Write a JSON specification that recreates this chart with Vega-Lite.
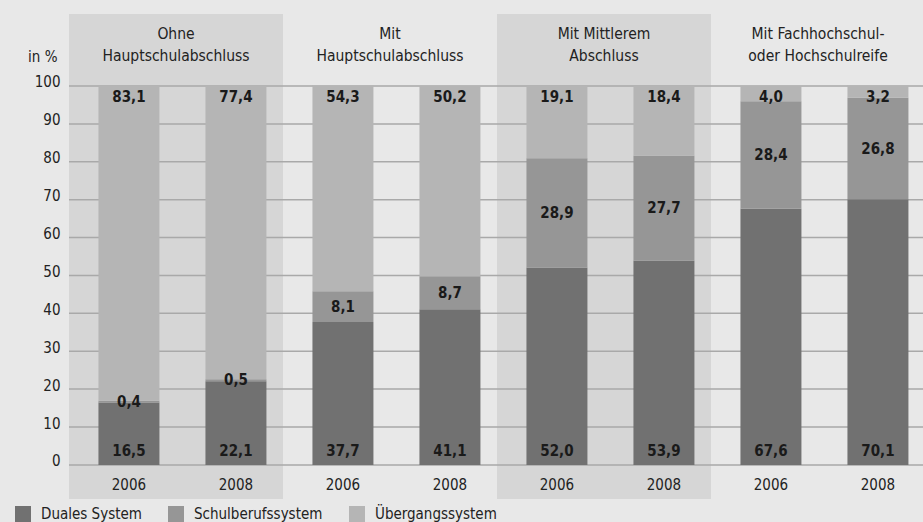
{
  "$schema": "https://vega.github.io/schema/vega-lite/v6.json",
  "autosize": {"type": "none"},
  "width": 856,
  "height": 485,
  "padding": {"left": 69, "top": 14, "right": 0, "bottom": 23},
  "background": "#e8e8e8",
  "config": {
    "font": "DejaVu Sans Condensed, Liberation Sans Narrow, Roboto Condensed, sans-serif",
    "view": {"stroke": null},
    "axisY": {"grid": false, "domain": false, "ticks": false,
              "labelFontSize": 15, "labelColor": "#222222", "labelPadding": 9, "labelOffset": -4,
              "titleAngle": 0, "titleAlign": "right", "titleBaseline": "middle",
              "titleX": -12, "titleY": 42, "titleFontSize": 15, "titleFontWeight": "normal", "titleColor": "#222222"}
  },
  "datasets": {
    "bars": [
      {"group": "Ohne\nHauptschulabschluss", "year": "2006", "series": "Duales System", "value": 16.5},
      {"group": "Ohne\nHauptschulabschluss", "year": "2006", "series": "Schulberufssystem", "value": 0.4},
      {"group": "Ohne\nHauptschulabschluss", "year": "2006", "series": "Übergangssystem", "value": 83.1},
      {"group": "Ohne\nHauptschulabschluss", "year": "2008", "series": "Duales System", "value": 22.1},
      {"group": "Ohne\nHauptschulabschluss", "year": "2008", "series": "Schulberufssystem", "value": 0.5},
      {"group": "Ohne\nHauptschulabschluss", "year": "2008", "series": "Übergangssystem", "value": 77.4},
      {"group": "Mit\nHauptschulabschluss", "year": "2006", "series": "Duales System", "value": 37.7},
      {"group": "Mit\nHauptschulabschluss", "year": "2006", "series": "Schulberufssystem", "value": 8.1},
      {"group": "Mit\nHauptschulabschluss", "year": "2006", "series": "Übergangssystem", "value": 54.3},
      {"group": "Mit\nHauptschulabschluss", "year": "2008", "series": "Duales System", "value": 41.1},
      {"group": "Mit\nHauptschulabschluss", "year": "2008", "series": "Schulberufssystem", "value": 8.7},
      {"group": "Mit\nHauptschulabschluss", "year": "2008", "series": "Übergangssystem", "value": 50.2},
      {"group": "Mit Mittlerem\nAbschluss", "year": "2006", "series": "Duales System", "value": 52.0},
      {"group": "Mit Mittlerem\nAbschluss", "year": "2006", "series": "Schulberufssystem", "value": 28.9},
      {"group": "Mit Mittlerem\nAbschluss", "year": "2006", "series": "Übergangssystem", "value": 19.1},
      {"group": "Mit Mittlerem\nAbschluss", "year": "2008", "series": "Duales System", "value": 53.9},
      {"group": "Mit Mittlerem\nAbschluss", "year": "2008", "series": "Schulberufssystem", "value": 27.7},
      {"group": "Mit Mittlerem\nAbschluss", "year": "2008", "series": "Übergangssystem", "value": 18.4},
      {"group": "Mit Fachhochschul-\noder Hochschulreife", "year": "2006", "series": "Duales System", "value": 67.6},
      {"group": "Mit Fachhochschul-\noder Hochschulreife", "year": "2006", "series": "Schulberufssystem", "value": 28.4},
      {"group": "Mit Fachhochschul-\noder Hochschulreife", "year": "2006", "series": "Übergangssystem", "value": 4.0},
      {"group": "Mit Fachhochschul-\noder Hochschulreife", "year": "2008", "series": "Duales System", "value": 70.1},
      {"group": "Mit Fachhochschul-\noder Hochschulreife", "year": "2008", "series": "Schulberufssystem", "value": 26.8},
      {"group": "Mit Fachhochschul-\noder Hochschulreife", "year": "2008", "series": "Übergangssystem", "value": 3.2}
    ],
    "groups": [
      {"group": "Ohne\nHauptschulabschluss"},
      {"group": "Mit\nHauptschulabschluss"},
      {"group": "Mit Mittlerem\nAbschluss"},
      {"group": "Mit Fachhochschul-\noder Hochschulreife"}
    ],
    "grid": [
      {"v": 0}, {"v": 10}, {"v": 20}, {"v": 30}, {"v": 40}, {"v": 50},
      {"v": 60}, {"v": 70}, {"v": 80}, {"v": 90}, {"v": 100}
    ]
  },
  "resolve": {"scale": {"x": "independent"}},
  "layer": [
    {
      "data": {"name": "groups"},
      "transform": [{"filter": {"field": "group", "oneOf": ["Ohne\nHauptschulabschluss", "Mit Mittlerem\nAbschluss"]}}],
      "mark": {"type": "rect", "color": "#d6d6d6"},
      "encoding": {
        "x": {"field": "group", "type": "nominal", "axis": null,
              "scale": {"type": "band", "domain": ["Ohne\nHauptschulabschluss", "Mit\nHauptschulabschluss", "Mit Mittlerem\nAbschluss", "Mit Fachhochschul-\noder Hochschulreife"], "paddingInner": 0, "paddingOuter": 0}},
        "y": {"datum": -9, "type": "quantitative", "scale": {"domain": [-9, 119], "nice": false, "zero": false},
              "axis": {"values": [0, 10, 20, 30, 40, 50, 60, 70, 80, 90, 100], "title": "in %"}},
        "y2": {"datum": 119}
      }
    },
    {
      "data": {"name": "grid"},
      "mark": {"type": "rule", "color": "#a9a9a9", "strokeWidth": 1.5},
      "encoding": {
        "y": {"field": "v", "type": "quantitative",
              "axis": {"values": [0, 10, 20, 30, 40, 50, 60, 70, 80, 90, 100], "title": "in %"}}
      }
    },
    {
      "data": {"name": "bars"},
      "transform": [{"calculate": "datum.group + ' ' + datum.year", "as": "bar"}],
      "mark": {"type": "bar"},
      "encoding": {
        "x": {"field": "bar", "type": "nominal", "axis": null,
              "scale": {"type": "band", "domain": ["Ohne\nHauptschulabschluss 2006", "Ohne\nHauptschulabschluss 2008", "Mit\nHauptschulabschluss 2006", "Mit\nHauptschulabschluss 2008", "Mit Mittlerem\nAbschluss 2006", "Mit Mittlerem\nAbschluss 2008", "Mit Fachhochschul-\noder Hochschulreife 2006", "Mit Fachhochschul-\noder Hochschulreife 2008"], "paddingInner": 0.43, "paddingOuter": 0.215, "align": 0.64}},
        "y": {"field": "value", "type": "quantitative", "stack": "zero",
              "axis": {"values": [0, 10, 20, 30, 40, 50, 60, 70, 80, 90, 100], "title": "in %"}},
        "color": {"field": "series", "type": "nominal",
                  "scale": {"domain": ["Duales System", "Schulberufssystem", "Übergangssystem"], "range": ["#717171", "#969696", "#b5b5b5"]},
                  "legend": {"title": null, "orient": "none", "legendX": -54, "legendY": 492, "direction": "horizontal",
                             "symbolType": "square", "symbolSize": 256, "symbolStrokeWidth": 0, "symbolOpacity": 1,
                             "labelFontSize": 15, "labelColor": "#222222", "labelOffset": 10, "columnPadding": 26}},
        "order": {"field": "series", "sort": "ascending"}
      }
    },
    {
      "data": {"name": "bars"},
      "transform": [
        {"window": [{"op": "sum", "field": "value", "as": "cum"}], "groupby": ["group", "year"], "sort": [{"field": "series", "order": "ascending"}], "frame": [null, 0]},
        {"calculate": "datum.group + ' ' + datum.year", "as": "bar"},
        {"calculate": "replace(format(datum.value, '.1f'), '.', ',')", "as": "label"},
        {"calculate": "datum.series == 'Duales System' ? 3.7 : datum.series == 'Übergangssystem' ? 97.1 : datum.cum - datum.value / 2", "as": "ly"}
      ],
      "mark": {"type": "text", "fontSize": 15, "fontWeight": "bold", "color": "#1a1a1a", "baseline": "middle"},
      "encoding": {
        "x": {"field": "bar", "type": "nominal", "axis": null,
              "scale": {"type": "band", "domain": ["Ohne\nHauptschulabschluss 2006", "Ohne\nHauptschulabschluss 2008", "Mit\nHauptschulabschluss 2006", "Mit\nHauptschulabschluss 2008", "Mit Mittlerem\nAbschluss 2006", "Mit Mittlerem\nAbschluss 2008", "Mit Fachhochschul-\noder Hochschulreife 2006", "Mit Fachhochschul-\noder Hochschulreife 2008"], "paddingInner": 0.43, "paddingOuter": 0.215, "align": 0.64}},
        "y": {"field": "ly", "type": "quantitative",
              "axis": {"values": [0, 10, 20, 30, 40, 50, 60, 70, 80, 90, 100], "title": "in %"}},
        "text": {"field": "label", "type": "nominal"}
      }
    },
    {
      "data": {"name": "bars"},
      "transform": [
        {"filter": "datum.series == 'Duales System'"},
        {"calculate": "datum.group + ' ' + datum.year", "as": "bar"}
      ],
      "mark": {"type": "text", "fontSize": 15, "color": "#222222", "baseline": "middle"},
      "encoding": {
        "x": {"field": "bar", "type": "nominal", "axis": null,
              "scale": {"type": "band", "domain": ["Ohne\nHauptschulabschluss 2006", "Ohne\nHauptschulabschluss 2008", "Mit\nHauptschulabschluss 2006", "Mit\nHauptschulabschluss 2008", "Mit Mittlerem\nAbschluss 2006", "Mit Mittlerem\nAbschluss 2008", "Mit Fachhochschul-\noder Hochschulreife 2006", "Mit Fachhochschul-\noder Hochschulreife 2008"], "paddingInner": 0.43, "paddingOuter": 0.215, "align": 0.64}},
        "y": {"datum": -5.2, "type": "quantitative",
              "axis": {"values": [0, 10, 20, 30, 40, 50, 60, 70, 80, 90, 100], "title": "in %"}},
        "text": {"field": "year", "type": "nominal"}
      }
    },
    {
      "data": {"name": "groups"},
      "mark": {"type": "text", "fontSize": 15.5, "color": "#222222", "baseline": "middle", "lineBreak": "\n", "lineHeight": 22},
      "encoding": {
        "x": {"field": "group", "type": "nominal", "axis": null,
              "scale": {"type": "band", "domain": ["Ohne\nHauptschulabschluss", "Mit\nHauptschulabschluss", "Mit Mittlerem\nAbschluss", "Mit Fachhochschul-\noder Hochschulreife"], "paddingInner": 0, "paddingOuter": 0}},
        "y": {"datum": 113.8, "type": "quantitative",
              "axis": {"values": [0, 10, 20, 30, 40, 50, 60, 70, 80, 90, 100], "title": "in %"}},
        "text": {"field": "group", "type": "nominal"}
      }
    }
  ]
}
